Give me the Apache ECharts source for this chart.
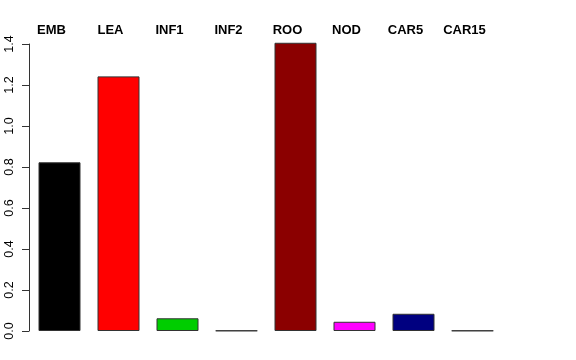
<!DOCTYPE html>
<html><head><meta charset="utf-8">
<script src="https://cdn.jsdelivr.net/npm/echarts@6/dist/echarts.min.js"></script>
<style>html,body{margin:0;padding:0;background:#fff}#c{width:576px;height:360px}</style>
</head><body><div id="c"></div>
<script>
const categories = ["EMB","LEA","INF1","INF2","ROO","NOD","CAR5","CAR15"];
const values = [0.823, 1.242, 0.062, 0.002, 1.406, 0.045, 0.084, 0.002];
const colors = ["#000000","#FF0000","#00CD00","#0000FF","#8B0000","#FF00FF","#000080","#00FFFF"];
const yTicks = [0.0,0.2,0.4,0.6,0.8,1.0,1.2,1.4];

const chart = echarts.init(document.getElementById('c'), null, {renderer:'canvas'});
chart.setOption({
  animation:false,
  backgroundColor:'#ffffff',
  grid:{left:30, right:74, top:44, bottom:29, containLabel:false},
  xAxis:{
    type:'category', position:'top', data:categories,
    axisLine:{show:false}, axisTick:{show:false},
    axisLabel:{fontFamily:'Liberation Sans', fontWeight:'bold', fontSize:13, color:'#000', margin:7, padding:[0,16,0,0]}
  },
  yAxis:{
    type:'value', min:0, max:1.4, interval:0.2, offset:1,
    splitLine:{show:false},
    axisLine:{show:true, lineStyle:{color:'#333', width:1}},
    axisTick:{show:true, length:7, lineStyle:{color:'#333'}},
    axisLabel:{rotate:90, fontFamily:'Liberation Sans', fontSize:12.5, color:'#000', margin:13,
      formatter:v=>yTicks.includes(Math.round(v*10)/10)?v.toFixed(1):''}
  },
  series:[{
    type:'bar', barWidth:42, clip:false,
    data: values.map((v,i)=>({value:v, itemStyle:{color:colors[i]}})),
    itemStyle:{borderColor:'#333', borderWidth:1}
  }]
});
</script></body></html>
